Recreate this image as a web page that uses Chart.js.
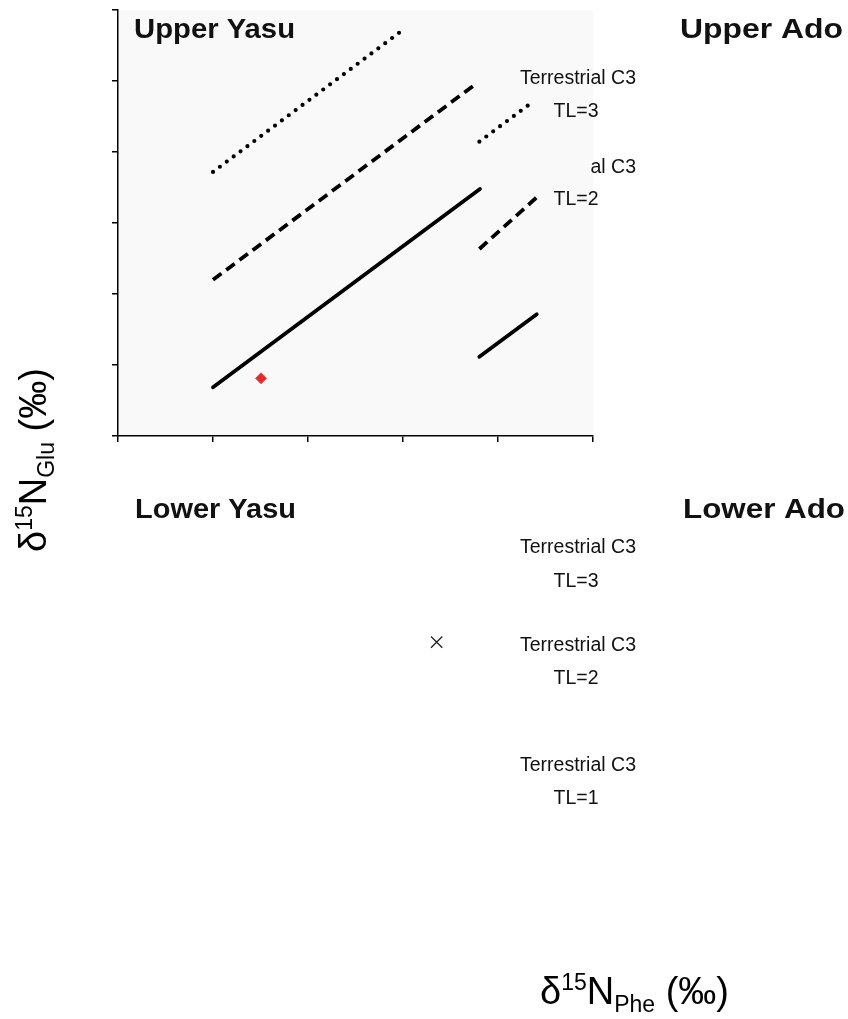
<!DOCTYPE html>
<html lang="en">
<head>
  <meta charset="UTF-8">
  <title>d15N Glu vs Phe</title>
  <script src="https://cdn.jsdelivr.net/npm/chart.js@4.4.1/dist/chart.umd.min.js"></script>
  <style>
    body { margin: 0; background: #fff; }
    canvas { position: absolute; left: 0; top: 0; }
  </style>
</head>
<body>
  <canvas id="upper" width="848" height="1019"></canvas>
  <canvas id="lower" width="848" height="1019"></canvas>

  <script>
    // axis ranges (no tick labels shown in the figure)
    const xRange = [0, 25];
    const yRange = [0, 30];

    // terrestrial C3 trophic level lines, upper panel
    const tl1X = [5, 19.05];
    const tl1Y = [3.43, 17.4];
    const tl2X = [5, 18.84];
    const tl2Y = [11.0, 24.8];
    const tl3X = [5, 15];
    const tl3Y = [18.6, 28.6];

    // short key lines next to the labels
    const key1X = [19.02, 22.04];
    const key1Y = [5.58, 8.57];
    const key2X = [19.02, 22.07];
    const key2Y = [13.17, 16.85];
    const key3X = [19.02, 21.8];
    const key3Y = [20.73, 23.5];

    // samples
    const upperYasuX = [7.53];
    const upperYasuY = [4.06];
    const lowerYasuX = [16.63];
    const lowerYasuY = [19.08];

    function pts(xs, ys) {
      return xs.map((x, i) => ({x: x, y: ys[i]}));
    }

    function lineSet(xs, ys, dash, cap, w) {
      return {
        type: 'line',
        data: pts(xs, ys),
        showLine: true,
        borderColor: '#000',
        borderWidth: w,
        borderDash: dash,
        borderCapStyle: cap,
        pointRadius: 0,
        fill: false
      };
    }

    const dotted = [0, 8.6];
    const dashed = [10.5, 6];

    const plotBg = {
      id: 'plotBg',
      beforeDraw(chart) {
        const a = chart.chartArea;
        const ctx = chart.ctx;
        ctx.save();
        ctx.fillStyle = '#f9f9f9';
        ctx.fillRect(a.left, a.top, a.right - a.left, a.bottom - a.top);
        ctx.restore();
      }
    };

    // text squeezed/stretched to a given width
    function fitText(ctx, txt, x, y, w) {
      const m = ctx.measureText(txt).width;
      ctx.save();
      ctx.translate(x, y);
      ctx.scale(w / m, 1);
      ctx.fillText(txt, 0, 0);
      ctx.restore();
    }

    // text with super/subscripts, parts: [text, size, dy]
    function richText(ctx, parts, x, y) {
      let cx = x;
      parts.forEach(p => {
        ctx.font = p[1] + 'px "Liberation Sans", Arial, sans-serif';
        ctx.fillText(p[0], cx, y + p[2]);
        cx += ctx.measureText(p[0]).width;
      });
    }

    const labels = {
      id: 'labels',
      afterDraw(chart) {
        const ctx = chart.ctx;
        ctx.save();
        ctx.fillStyle = '#111';
        ctx.textAlign = 'left';
        ctx.textBaseline = 'alphabetic';
        ctx.font = 'bold 28px "Liberation Sans", Arial, sans-serif';
        fitText(ctx, 'Upper Yasu', 134, 38, 161);
        fitText(ctx, 'Upper Ado', 680, 38, 163);
        fitText(ctx, 'Lower Yasu', 135, 518, 161);
        fitText(ctx, 'Lower Ado', 683, 518, 162);

        ctx.font = '19.5px "Liberation Sans", Arial, sans-serif';
        ctx.textAlign = 'center';
        ctx.fillText('Terrestrial C3', 578, 84);
        ctx.fillText('TL=3', 576, 117);
        ctx.textAlign = 'right';
        ctx.fillText('al C3', 636, 173);
        ctx.textAlign = 'center';
        ctx.fillText('TL=2', 576, 205);

        ctx.fillText('Terrestrial C3', 578, 553);
        ctx.fillText('TL=3', 576, 587);
        ctx.fillText('Terrestrial C3', 578, 651);
        ctx.fillText('TL=2', 576, 684);
        ctx.fillText('Terrestrial C3', 578, 771);
        ctx.fillText('TL=1', 576, 804);

        ctx.textAlign = 'left';
        ctx.fillStyle = '#000';
        richText(ctx, [['δ', 38, 0], ['15', 23, -14], ['N', 38, 0], ['Phe', 23, 8], [' (‰)', 38, 0]], 540, 1004);

        ctx.save();
        ctx.translate(46, 552);
        ctx.rotate(-Math.PI / 2);
        richText(ctx, [['δ', 38, 0], ['15', 23, -14], ['N', 38, 0], ['Glu', 23, 8], [' (‰)', 38, 0]], 0, 0);
        ctx.restore();
        ctx.restore();
      }
    };

    function axis(range, step, hidden, fitKey) {
      return {
        type: 'linear',
        display: !hidden,
        min: range[0],
        max: range[1],
        ticks: {stepSize: step, display: false},
        grid: {drawOnChartArea: false, drawTicks: true, tickLength: 6, color: '#000', lineWidth: 1.5},
        border: {color: '#000', width: 1.5},
        afterFit: s => { s[fitKey] = 8; }
      };
    }

    new Chart(document.getElementById('upper').getContext('2d'), {
      type: 'scatter',
      data: {
        datasets: [
          lineSet(tl1X, tl1Y, [], 'round', 3.8),
          lineSet(tl2X, tl2Y, dashed, 'butt', 3.8),
          lineSet(tl3X, tl3Y, dotted, 'round', 4.2),
          lineSet(key1X, key1Y, [], 'round', 3.8),
          lineSet(key2X, key2Y, dashed, 'butt', 3.8),
          lineSet(key3X, key3Y, dotted, 'round', 4.2),
          {
            data: pts(upperYasuX, upperYasuY),
            pointStyle: 'rectRot',
            pointRadius: 5.5,
            backgroundColor: '#e42b2b',
            borderColor: '#e85050',
            borderWidth: 1
          }
        ]
      },
      options: {
        responsive: false,
        animation: false,
        layout: {padding: {left: 110, top: 10, right: 255, bottom: 575}},
        plugins: {legend: {display: false}, tooltip: {enabled: false}},
        scales: {
          x: axis(xRange, 5, false, 'height'),
          y: axis(yRange, 5, false, 'width')
        }
      },
      plugins: [plotBg, labels]
    });

    new Chart(document.getElementById('lower').getContext('2d'), {
      type: 'scatter',
      data: {
        datasets: [{
          data: pts(lowerYasuX, lowerYasuY),
          pointStyle: 'crossRot',
          pointRadius: 8,
          borderColor: '#222',
          borderWidth: 1.3
        }]
      },
      options: {
        responsive: false,
        animation: false,
        layout: {padding: {left: 118, top: 490, right: 255, bottom: 103}},
        plugins: {legend: {display: false}, tooltip: {enabled: false}},
        scales: {
          x: axis(xRange, 5, true, 'height'),
          y: axis(yRange, 5, true, 'width')
        }
      }
    });
  </script>
</body>
</html>
